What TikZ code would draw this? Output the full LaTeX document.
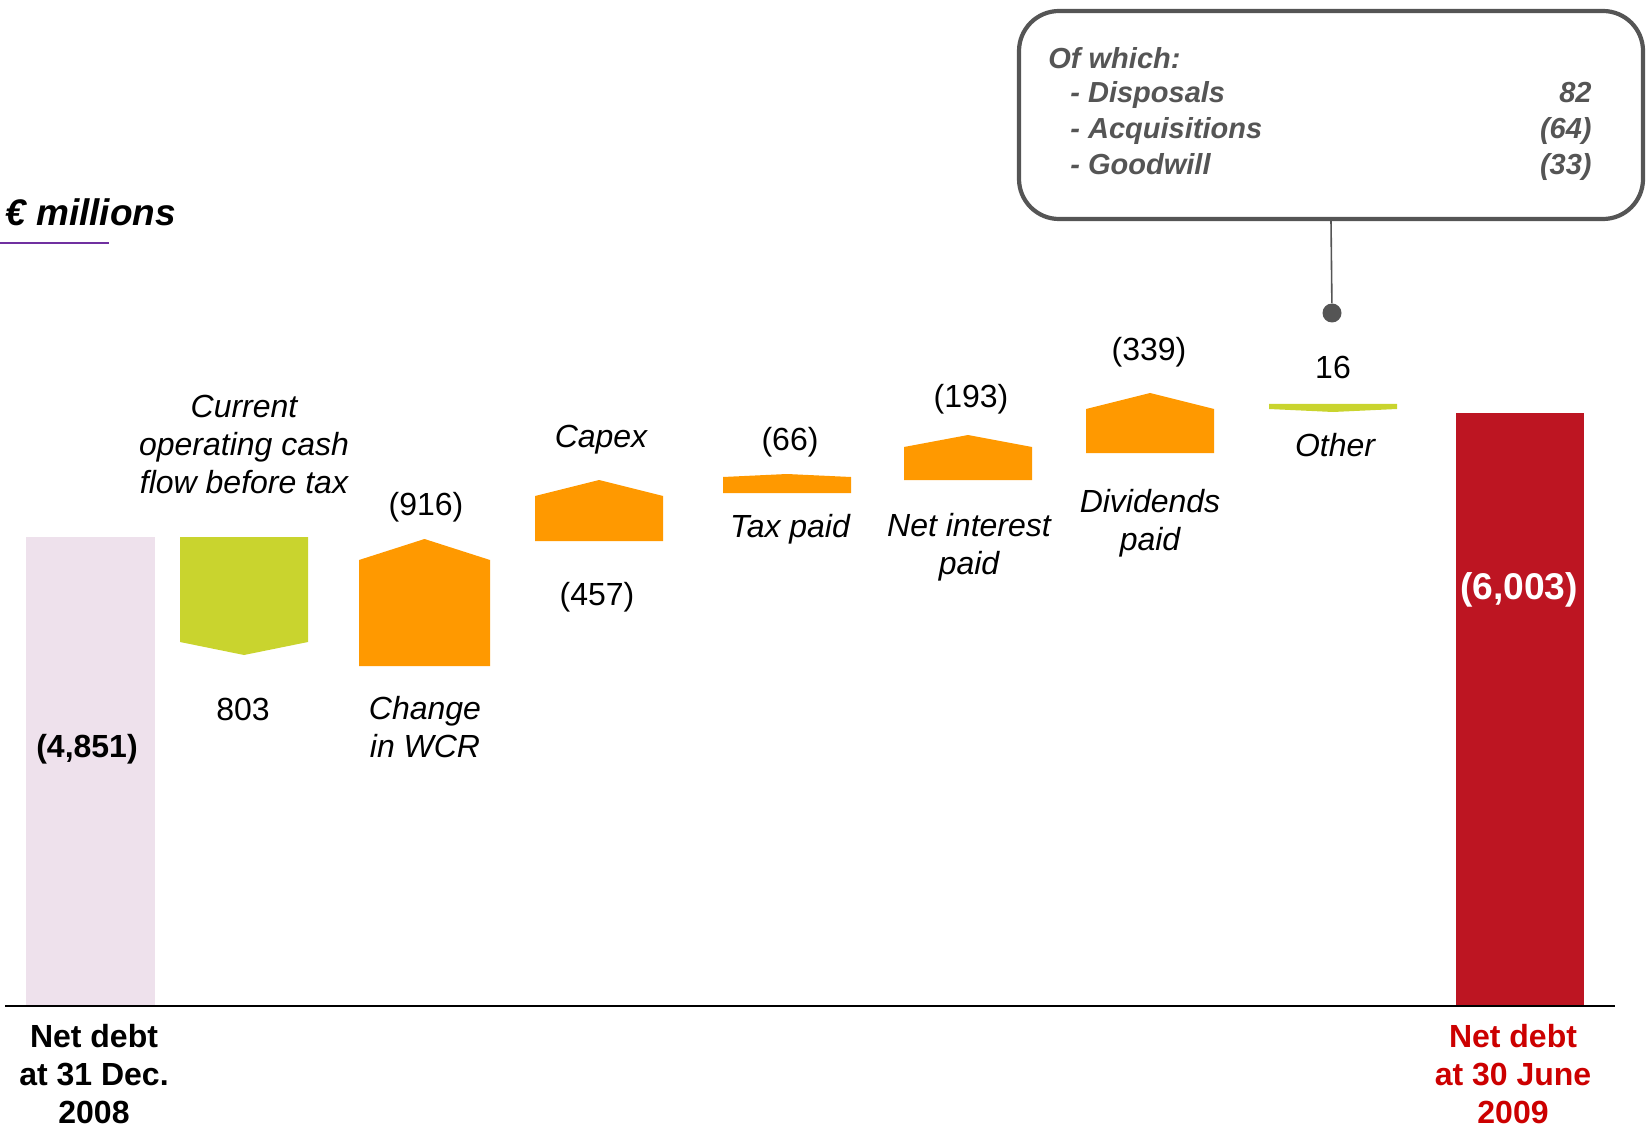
\documentclass[tikz,border=0pt]{standalone}
\usepackage{fontspec}
\setmainfont{Liberation Sans}
\usepackage{xcolor}
\usepackage{tikz}
\usetikzlibrary{positioning}

\definecolor{startpink}{HTML}{EEE1EC}
\definecolor{gaingreen}{HTML}{C9D42E}
\definecolor{lossorange}{HTML}{FF9900}
\definecolor{enddebt}{HTML}{BD1522}
\definecolor{endlabel}{HTML}{CC0000}
\definecolor{callgray}{HTML}{555555}
\definecolor{unitpurple}{HTML}{7030A0}

\begin{document}
\begin{tikzpicture}[
        x=0.5pt, y=-0.5pt,
        every node/.style={inner sep=0pt, anchor=base, align=center},
        val/.style={font=\fontsize{16}{19}\selectfont},
        lbl/.style={font=\fontsize{16}{19}\selectfont\itshape},
        total/.style={font=\fontsize{16}{19}\selectfont\bfseries},
        calltxt/.style={font=\fontsize{14.5}{18}\selectfont\bfseries\itshape, text=callgray}
        ]
    \useasboundingbox (0,0) rectangle (1648,1128);

        % Bars
        \fill[startpink] (26,537) rectangle (155,1006);
        \fill[gaingreen] (180,537) -- (308,537) -- (308,642) -- (244,655) -- (180,642) -- cycle;
        \fill[lossorange] (359,666) -- (359,560) -- (424.5,539) -- (490,560) -- (490,666) -- cycle;
        \fill[lossorange] (535,541) -- (535,496) -- (599,480) -- (663,496) -- (663,541) -- cycle;
        \fill[lossorange] (723,493) -- (723,477) -- (787,474) -- (851,477) -- (851,493) -- cycle;
        \fill[lossorange] (904,480) -- (904,447) -- (968,435) -- (1032,447) -- (1032,480) -- cycle;
        \fill[lossorange] (1086,453) -- (1086,409) -- (1150,393) -- (1214,409) -- (1214,453) -- cycle;
        \fill[gaingreen] (1269,404) -- (1397,404) -- (1397,409) -- (1333,412) -- (1269,409) -- cycle;
        \fill[enddebt] (1456,413) rectangle (1584,1006);

        % Axis and unit
        \draw[line width=0.75pt] (5,1006) -- (1615,1006);
        \node (unit) [anchor=base west, font=\fontsize{18.5}{22}\selectfont\bfseries\itshape] at (5,226) {€ millions};
        \draw[unitpurple, line width=1pt] (0,243) -- (109,243);

        % Values
        \node (startval) [total] at (87,757.5) {(4,851)};
        \node (cashval) [val] at (243,720) {803};
        \node (wcrval) [val] at (426,515.5) {(916)};
        \node (capexval) [val] at (597,605.5) {(457)};
        \node (taxval) [val] at (790,450.5) {(66)};
        \node (intval) [val] at (971,407.5) {(193)};
        \node (divval) [val] at (1149,360.5) {(339)};
        \node (otherval) [val] at (1333,378.5) {16};
        \node (endval) [font=\fontsize{18.6}{22}\selectfont\bfseries, text=white] at (1519,599) {(6,003)};

        % Labels (base = last line)
        \node (cashlbl) [lbl] at (244,493.5) {Current\\operating cash\\flow before tax};
        \node (wcrlbl) [lbl] at (425,757.5) {Change\\in WCR};
        \node (capexlbl) [lbl] at (601,447.5) {Capex};
        \node (taxlbl) [lbl] at (790,537.5) {Tax paid};
        \node (intlbl) [lbl] at (969,574.5) {Net interest\\paid};
        \node (divlbl) [lbl] at (1150,550.5) {Dividends\\paid};
        \node (otherlbl) [lbl] at (1335,456.5) {Other};
        \node (startlbl) [total] at (94,1123.5) {Net debt\\at 31 Dec.\\2008};
        \node (endlbl) [total, text=endlabel] at (1513,1123.5) {Net debt\\at 30 June\\2009};

        % Callout
        \node (whichbox) [anchor=center, draw=callgray, line width=2.1pt, rounded corners=20pt,
            minimum width=312pt, minimum height=104pt] at (1331,115) {};
        \node (which) [calltxt, anchor=base west] at (1048,68.4) {Of which:};
        \node (disp) [calltxt, anchor=base west] at (1070,102.4) {- Disposals};
        \node (acq) [calltxt, anchor=base west] at (1070,138.4) {- Acquisitions};
        \node (gw) [calltxt, anchor=base west] at (1070,174.4) {- Goodwill};
        \node (dispval) [calltxt, anchor=base east] at (1592,102.4) {82};
        \node (acqval) [calltxt, anchor=base east] at (1592,138.4) {(64)};
        \node (gwval) [calltxt, anchor=base east] at (1592,174.4) {(33)};
        \node (otherdot) [anchor=center, circle, fill=callgray, minimum size=9.5pt] at (1332,313) {};
        \draw[callgray, line width=0.8pt] (whichbox.south) -- (otherdot);

    \end{tikzpicture}
\end{document}
